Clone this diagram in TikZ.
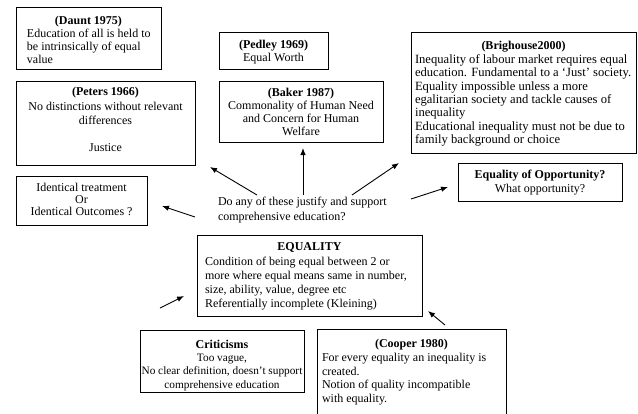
\documentclass[tikz,border=0pt]{standalone}
\usepackage{fontspec}
\setmainfont{Liberation Serif}
\usetikzlibrary{arrows.meta}
\begin{document}
\begin{tikzpicture}[x=1pt,y=-1pt,
  box/.style={draw, line width=0.9pt, inner sep=0pt, outer sep=0pt},
  tx/.style={inner sep=0pt, outer sep=0pt, font=\fontsize{12}{#1}\selectfont},
  tx/.default=13.5,
  ttl/.style={inner sep=0pt, outer sep=0pt, font=\fontsize{12}{13}\selectfont\bfseries, anchor=base},
  arr/.style={-{Latex[length=7pt,width=5.5pt]}, line width=0.9pt}]
\useasboundingbox (0,0) rectangle (638,413);
\newcommand\mybox[5]{\node[box, minimum width={#4pt-#2pt}, minimum height={#5pt-#3pt}] (#1) at ({(#2+#4)/2},{(#3+#5)/2}) {};}
% boxes
\mybox{daunt}{16}{7}{161}{69}
\mybox{pedley}{219}{32}{328}{69}
\mybox{baker}{219}{81}{383}{142}
\mybox{brig}{411}{32}{636}{153}
\mybox{eqopp}{458}{163}{622}{201}
\mybox{peters}{16}{81}{195}{165}
\mybox{ident}{16}{176}{147}{225}
\mybox{equal}{197}{235}{422}{316}
\mybox{crit}{140}{330}{304}{392}
\mybox{cooper}{317}{329}{506}{430}
% Daunt
\begin{scope}
\clip (16,7) rectangle (161,63.5);
\node[ttl] (dauntT) at (88.5,24.5) {(Daunt 1975)};
\node[tx=13, anchor=base west, align=left] (dauntB) at (27,63) {Education of all is held to\\be intrinsically of equal\\value};
\end{scope}
% Pedley
\node[ttl] (pedleyT) at (273.5,48.5) {(Pedley 1969)};
\node[tx, anchor=base] (pedleyB) at (273.5,61.5) {Equal Worth};
% Baker
\begin{scope}
\clip (219,81) rectangle (383,137.5);
\node[ttl] (bakerT) at (301,96.5) {(Baker 1987)};
\node[tx=13, anchor=base, align=center] (bakerB) at (301,135) {Commonality of Human Need\\and Concern for Human\\Welfare};
\end{scope}
% Brighouse
\node[ttl] (brigT) at (523.5,49.5) {(Brighouse2000)};
\node[inner sep=0pt, outer sep=0pt, font=\fontsize{12.6}{13.3}\selectfont, anchor=base west, align=left] (brigB) at (415,143.3) {Inequality of labour market requires equal\\education. Fundamental to a `Just' society.\\Equality impossible unless a more\\egalitarian society and tackle causes of\\inequality\\Educational inequality must not be due to\\family background or choice};
% Equality of opportunity
\node[ttl] (eqoppT) at (540,178.5) {Equality of Opportunity?};
\node[tx, anchor=base] (eqoppB) at (540,192.5) {What opportunity?};
% Peters
\node[ttl] (petersT) at (105.5,95) {(Peters 1966)};
\node[tx=13.5, anchor=base, align=center] (petersB) at (105.5,151) {No distinctions without relevant\\differences\\[13.5pt]Justice};
% Identical
\node[tx=12, anchor=base, align=center] (identB) at (81.5,215.5) {Identical treatment\\Or\\Identical Outcomes ?};
% Question
\node[tx=14.5, anchor=base west, align=left] (q) at (218,220) {Do any of these justify and support\\comprehensive education?};
% Equality
\node[ttl] (equalT) at (309.5,250.5) {EQUALITY};
\node[tx=14, anchor=base west, align=left] (equalB) at (205,307.5) {Condition of being equal between 2 or\\more where equal means same in number,\\size, ability, value, degree etc\\Referentially incomplete (Kleining)};
% Criticisms
\node[ttl] (critT) at (222,348.5) {Criticisms};
\node[inner sep=0pt, outer sep=0pt, font=\fontsize{11.3}{13.3}\selectfont, anchor=base, align=center] (critB) at (222,388.1) {Too vague,\\No clear definition, doesn't support\\comprehensive education};
% Cooper
\node[ttl] (cooperT) at (411.5,347.5) {(Cooper 1980)};
\node[tx=13.7, anchor=base west, align=left] (cooperB) at (322,402.6) {For every equality an inequality is\\created.\\Notion of quality incompatible\\with equality.};
% arrow ends
\coordinate (t1) at (257,195); \coordinate (h1) at (210,167);
\coordinate (t2) at (303,195); \coordinate (h2) at (303,148);
\coordinate (t3) at (352,195); \coordinate (h3) at (399,163);
\coordinate (t4) at (195,217); \coordinate (h4) at (162,206);
\coordinate (t5) at (411,199); \coordinate (h5) at (448,187);
\coordinate (t6) at (160,308); \coordinate (h6) at (184,296);
\coordinate (t7) at (445,325); \coordinate (h7) at (428,311);
\draw[arr] (t1) -- (h1);
\draw[arr] (t2) -- (h2);
\draw[arr] (t3) -- (h3);
\draw[arr] (t4) -- (h4);
\draw[arr] (t5) -- (h5);
\draw[arr] (t6) -- (h6);
\draw[arr] (t7) -- (h7);
\end{tikzpicture}
\end{document}
